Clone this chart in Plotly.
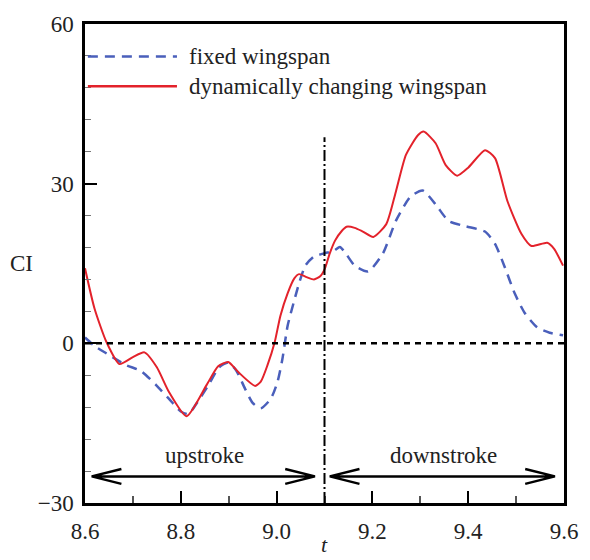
import plotly.graph_objects as go

# ---- data ----
red_t = [8.600, 8.620, 8.645, 8.672, 8.700, 8.724, 8.750, 8.775, 8.812, 8.854, 8.878, 8.899,
         8.920, 8.955, 8.967, 8.981, 8.996, 9.008, 9.023, 9.037, 9.047, 9.064, 9.078, 9.091,
         9.101, 9.111, 9.122, 9.136, 9.146, 9.163, 9.180, 9.202, 9.229, 9.249, 9.270, 9.295,
         9.307, 9.332, 9.353, 9.377, 9.400, 9.435, 9.456, 9.482, 9.511, 9.532, 9.565, 9.579, 9.598]
red_v = [14.1, 6.5, 0.2, -3.9, -2.6, -1.7, -4.5, -9.1, -13.7, -7.8, -4.3, -3.5,
         -5.4, -8.0, -7.2, -4.1, 0.2, 5.2, 9.4, 12.2, 13.0, 12.4, 12.0, 12.6,
         14.1, 16.9, 19.3, 21.1, 21.9, 21.7, 21.0, 20.0, 22.4, 28.5, 35.4, 39.1,
         39.8, 37.6, 33.5, 31.5, 33.0, 36.3, 34.8, 26.7, 20.6, 18.3, 18.9, 17.8, 14.6]

blue_t = [8.600, 8.620, 8.645, 8.686, 8.717, 8.748, 8.775, 8.800, 8.816, 8.835, 8.858, 8.880,
          8.899, 8.915, 8.934, 8.950, 8.967, 8.988, 9.002, 9.012, 9.023, 9.037, 9.047, 9.060,
          9.078, 9.099, 9.120, 9.132, 9.142, 9.163, 9.191, 9.222, 9.249, 9.280, 9.305, 9.332,
          9.359, 9.394, 9.435, 9.456, 9.476, 9.497, 9.518, 9.544, 9.570, 9.598]
blue_v = [1.1, -0.5, -1.9, -4.1, -5.2, -7.8, -10.4, -12.8, -13.3, -11.0, -7.8, -4.5,
          -3.6, -5.0, -8.5, -11.2, -12.2, -10.4, -7.2, -3.0, 3.3, 8.1, 11.3, 14.6,
          16.3, 16.9, 17.4, 18.1, 17.2, 14.6, 13.5, 16.9, 23.0, 27.6, 28.7, 26.1,
          23.0, 22.0, 21.0, 18.7, 14.4, 9.4, 5.7, 3.0, 2.0, 1.5]

series_names = ["fixed wingspan", "dynamically changing wingspan"]
phase_labels = ["upstroke", "downstroke"]
phase_start = [8.614, 9.111]
phase_end = [9.080, 9.581]
phase_split = 9.1

x_ticks = [8.6, 8.8, 9.0, 9.2, 9.4, 9.6]
x_tick_text = ["8.6", "8.8", "9.0", "9.2", "9.4", "9.6"]
y_ticks = [-30, 0, 30, 60]

# ---- styles ----
FONT = "Liberation Serif"
RED = "#e3222b"
BLUE = "#4a5fbb"
arrow_y = -25
label_y = -21
arm_dx = 0.062
arm_dy = 1.4

fig = go.Figure()
fig.add_trace(go.Scatter(x=blue_t, y=blue_v, mode="lines", name=series_names[0],
                         line=dict(color=BLUE, width=2.5, dash="10px,7px", shape="spline", smoothing=0.6),
                         showlegend=False))
fig.add_trace(go.Scatter(x=red_t, y=red_v, mode="lines", name=series_names[1],
                         line=dict(color=RED, width=2, shape="spline", smoothing=0.6),
                         showlegend=False))

shapes = []
# zero line
shapes.append(dict(type="line", xref="paper", yref="y", x0=0, x1=1, y0=0, y1=0,
                   line=dict(color="black", width=2.5, dash="6px,5px")))
# split line
shapes.append(dict(type="line", xref="x", yref="y", x0=phase_split, x1=phase_split, y0=-30, y1=38.7,
                   line=dict(color="black", width=2, dash="11px,3px,2px,3px")))
# arrows
for s, e in zip(phase_start, phase_end):
    path = (f"M{s + arm_dx},{arrow_y + arm_dy} L{s},{arrow_y} L{s + arm_dx},{arrow_y - arm_dy} "
            f"M{s},{arrow_y} L{e},{arrow_y} "
            f"M{e - arm_dx},{arrow_y + arm_dy} L{e},{arrow_y} L{e - arm_dx},{arrow_y - arm_dy}")
    shapes.append(dict(type="path", xref="x", yref="y", path=path,
                       line=dict(color="black", width=2.5)))

# manual legend
leg_y = [0.932, 0.870]
leg_styles = [dict(color=BLUE, width=2.5, dash="10px,7px"), dict(color=RED, width=2.5)]
for yy, st in zip(leg_y, leg_styles):
    shapes.append(dict(type="line", xref="paper", yref="paper", x0=0.006, x1=0.192, y0=yy, y1=yy, line=st))

annotations = []
for yy, name in zip(leg_y, series_names):
    annotations.append(dict(xref="paper", yref="paper", x=0.212, y=yy, text=name, showarrow=False,
                            xanchor="left", yanchor="middle", font=dict(family=FONT, size=23, color="#222")))
for s, e, lab in zip(phase_start, phase_end, phase_labels):
    annotations.append(dict(xref="x", yref="y", x=(s + e) / 2 + 0.003, y=label_y, text=lab, showarrow=False,
                            xanchor="center", yanchor="middle", font=dict(family=FONT, size=23, color="#222")))
annotations.append(dict(xref="paper", yref="paper", x=-0.133, y=0.5, text="CI", showarrow=False,
                        xanchor="center", yanchor="middle", font=dict(family=FONT, size=23, color="#222")))
annotations.append(dict(xref="paper", yref="paper", x=0.5, y=-0.086, text="<i>t</i>", showarrow=False,
                        xanchor="center", yanchor="middle", font=dict(family=FONT, size=22, color="#222")))

fig.update_layout(
    width=590, height=560,
    margin=dict(l=85, r=20, t=17, b=57),
    paper_bgcolor="white", plot_bgcolor="white",
    font=dict(family=FONT, size=23, color="#222"),
    shapes=shapes, annotations=annotations,
    xaxis=dict(range=[8.6, 9.6], tickvals=x_ticks, ticktext=x_tick_text, ticks="inside", ticklen=12,
               tickwidth=2, tickcolor="black", showline=True, linecolor="black", linewidth=2.5,
               mirror=True, showgrid=False, zeroline=False, ticklabelstandoff=6,
               minor=dict(ticks="inside", dtick=0.1, ticklen=7, tickwidth=1.5, tickcolor="#555")),
    yaxis=dict(range=[-30, 60], tickvals=y_ticks, ticks="inside", ticklen=12,
               tickwidth=2, tickcolor="black", showline=True, linecolor="black", linewidth=2.5,
               mirror=True, showgrid=False, zeroline=False, ticklabelstandoff=4,
               minor=dict(ticks="inside", dtick=6, ticklen=6, tickwidth=1.2, tickcolor="#777")),
)

fig.write_html("out.html")
